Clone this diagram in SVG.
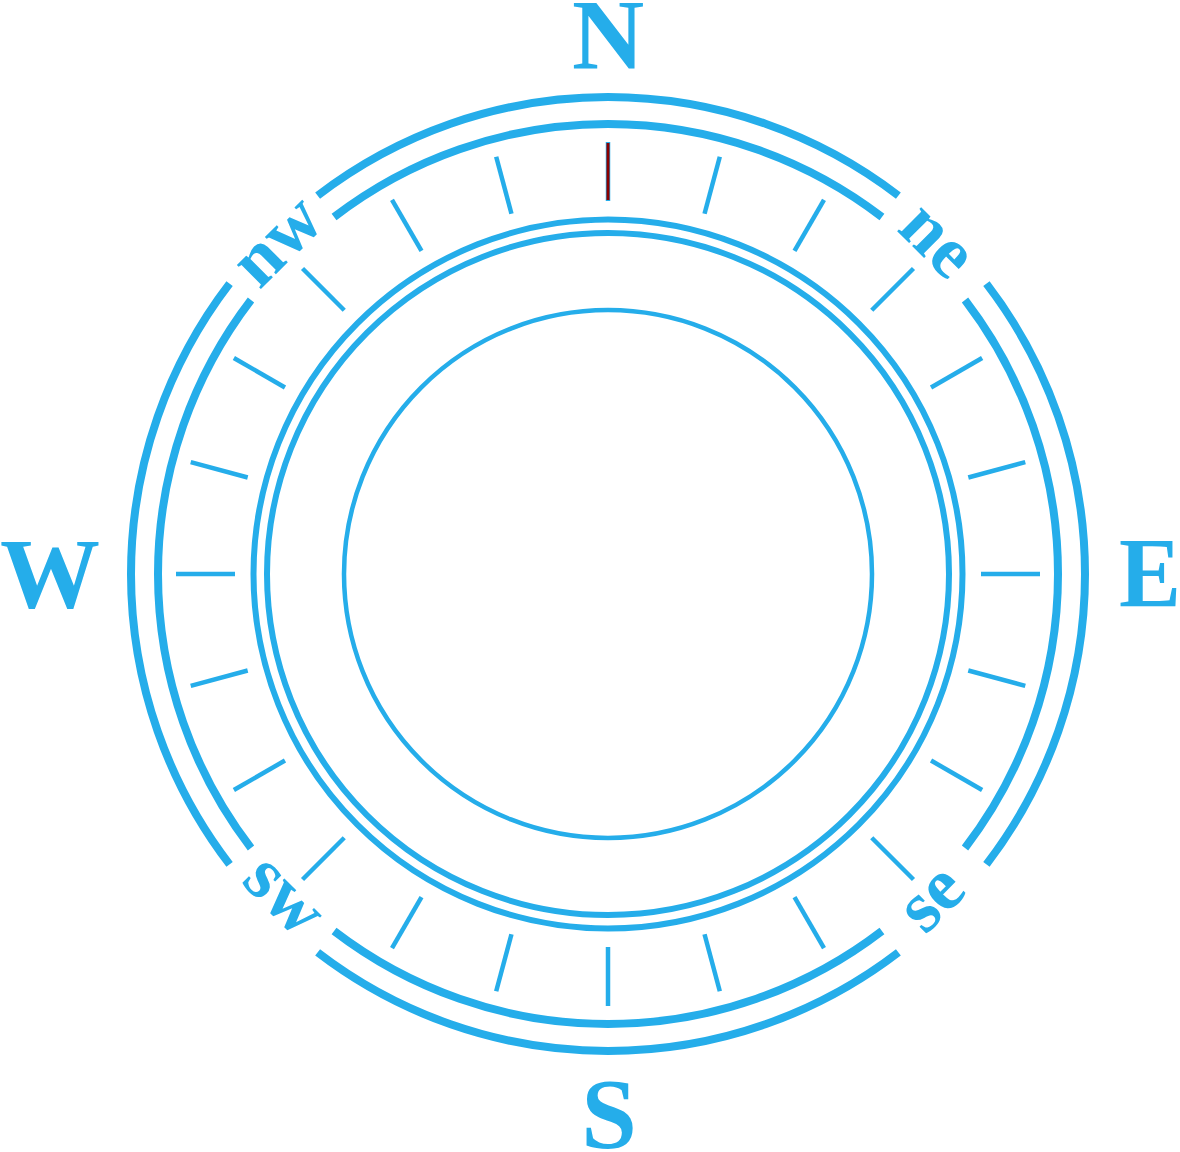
<svg xmlns="http://www.w3.org/2000/svg" width="1180" height="1152" viewBox="0 0 1180 1152">
  <style>
    .ring { fill: none; stroke: #25adea; }
    .tick { stroke: #25adea; stroke-width: 4.5; }
    .big { font-family: "Liberation Serif", "Times New Roman", serif; font-weight: bold; font-size: 100px; fill: #25adea; }
    .small { font-family: "Liberation Serif", "Times New Roman", serif; font-weight: bold; font-size: 74px; fill: #25adea; text-anchor: middle; }
  </style>
  <rect width="1180" height="1152" fill="#ffffff"/>
  <g id="outer-ring" class="ring" stroke-width="8">
    <path d="M317.62 195.57 A477 477 0 0 1 898.38 195.57"/>
    <path d="M986.43 283.62 A477 477 0 0 1 986.43 864.38"/>
    <path d="M898.38 952.43 A477 477 0 0 1 317.62 952.43"/>
    <path d="M229.57 864.38 A477 477 0 0 1 229.57 283.62"/>
  </g>
  <g id="second-ring" class="ring" stroke-width="8">
    <path d="M334.06 216.99 A450 450 0 0 1 881.94 216.99"/>
    <path d="M965.01 300.06 A450 450 0 0 1 965.01 847.94"/>
    <path d="M881.94 931.01 A450 450 0 0 1 334.06 931.01"/>
    <path d="M250.99 847.94 A450 450 0 0 1 250.99 300.06"/>
  </g>
  <g id="inner-rings">
    <circle class="ring" cx="608" cy="574" r="354.5" stroke-width="6"/>
    <circle class="ring" cx="608" cy="574" r="341" stroke-width="6"/>
    <circle class="ring" cx="608" cy="574" r="264" stroke-width="4.5"/>
  </g>
  <g id="ticks">
    <line class="tick" x1="608" y1="142" x2="608" y2="201"/>
    <line class="tick" x1="608" y1="142" x2="608" y2="201" transform="rotate(15 608 574)"/>
    <line class="tick" x1="608" y1="142" x2="608" y2="201" transform="rotate(30 608 574)"/>
    <line class="tick" x1="608" y1="142" x2="608" y2="201" transform="rotate(45 608 574)"/>
    <line class="tick" x1="608" y1="142" x2="608" y2="201" transform="rotate(60 608 574)"/>
    <line class="tick" x1="608" y1="142" x2="608" y2="201" transform="rotate(75 608 574)"/>
    <line class="tick" x1="608" y1="142" x2="608" y2="201" transform="rotate(90 608 574)"/>
    <line class="tick" x1="608" y1="142" x2="608" y2="201" transform="rotate(105 608 574)"/>
    <line class="tick" x1="608" y1="142" x2="608" y2="201" transform="rotate(120 608 574)"/>
    <line class="tick" x1="608" y1="142" x2="608" y2="201" transform="rotate(135 608 574)"/>
    <line class="tick" x1="608" y1="142" x2="608" y2="201" transform="rotate(150 608 574)"/>
    <line class="tick" x1="608" y1="142" x2="608" y2="201" transform="rotate(165 608 574)"/>
    <line class="tick" x1="608" y1="142" x2="608" y2="201" transform="rotate(180 608 574)"/>
    <line class="tick" x1="608" y1="142" x2="608" y2="201" transform="rotate(195 608 574)"/>
    <line class="tick" x1="608" y1="142" x2="608" y2="201" transform="rotate(210 608 574)"/>
    <line class="tick" x1="608" y1="142" x2="608" y2="201" transform="rotate(225 608 574)"/>
    <line class="tick" x1="608" y1="142" x2="608" y2="201" transform="rotate(240 608 574)"/>
    <line class="tick" x1="608" y1="142" x2="608" y2="201" transform="rotate(255 608 574)"/>
    <line class="tick" x1="608" y1="142" x2="608" y2="201" transform="rotate(270 608 574)"/>
    <line class="tick" x1="608" y1="142" x2="608" y2="201" transform="rotate(285 608 574)"/>
    <line class="tick" x1="608" y1="142" x2="608" y2="201" transform="rotate(300 608 574)"/>
    <line class="tick" x1="608" y1="142" x2="608" y2="201" transform="rotate(315 608 574)"/>
    <line class="tick" x1="608" y1="142" x2="608" y2="201" transform="rotate(330 608 574)"/>
    <line class="tick" x1="608" y1="142" x2="608" y2="201" transform="rotate(345 608 574)"/>
    <line id="north-needle" x1="608" y1="143" x2="608" y2="200" stroke="#8b0000" stroke-width="3"/>
  </g>
  <g id="cardinal-labels" class="big">
    <text x="608" y="68" text-anchor="middle">N</text>
    <text x="1119" y="606" transform="translate(1119 0) scale(0.93 1) translate(-1119 0)">E</text>
    <text x="609" y="1147" text-anchor="middle">S</text>
    <text x="0" y="607">W</text>
  </g>
  <g id="intercardinal-labels" class="small">
    <text transform="translate(934 244) rotate(45)" y="17">ne</text>
    <text transform="translate(281 245) rotate(-45)" y="17">nw</text>
    <text transform="translate(935 902) rotate(-45)" y="17">se</text>
    <text transform="translate(281 899) rotate(45)" y="17">sw</text>
  </g>
</svg>
